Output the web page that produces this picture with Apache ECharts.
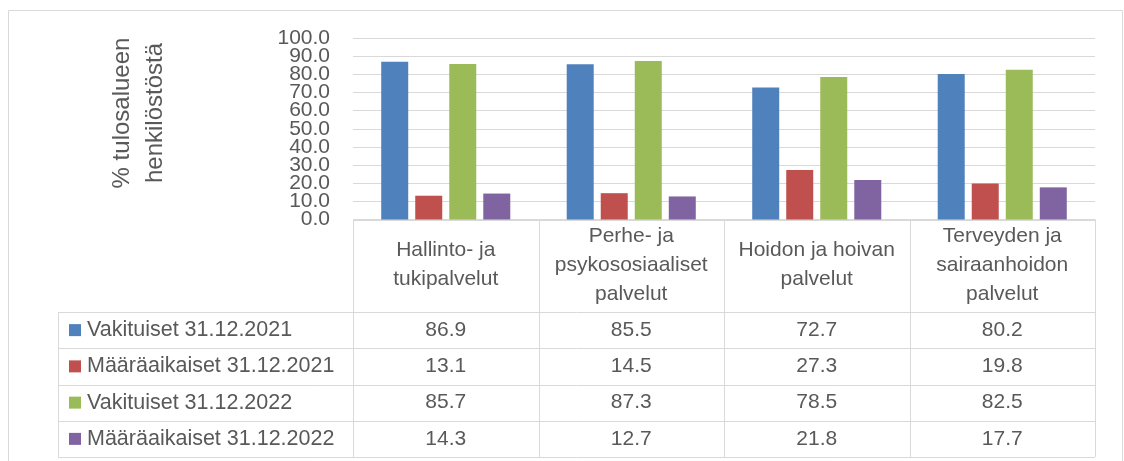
<!DOCTYPE html>
<html>
<head>
<meta charset="utf-8">
<script src="https://cdn.jsdelivr.net/npm/echarts@6/dist/echarts.min.js"></script>
<style>
  html, body { margin: 0; padding: 0; background: #fff; }
  #main { width: 1124px; height: 461px; }
</style>
</head>
<body>
<div id="main"></div>
<script>
// data
var categories = ['Hallinto- ja\ntukipalvelut', 'Perhe- ja\npsykososiaaliset\npalvelut', 'Hoidon ja hoivan\npalvelut', 'Terveyden ja\nsairaanhoidon\npalvelut'];
var seriesNames = ['Vakituiset 31.12.2021', 'Määräaikaiset 31.12.2021', 'Vakituiset 31.12.2022', 'Määräaikaiset 31.12.2022'];
var vakituiset2021 = [86.9, 85.5, 72.7, 80.2];
var maaraaikaiset2021 = [13.1, 14.5, 27.3, 19.8];
var vakituiset2022 = [85.7, 87.3, 78.5, 82.5];
var maaraaikaiset2022 = [14.3, 12.7, 21.8, 17.7];
var yTitle = ['% tulosalueen', 'henkilöstöstä'];

var allData = [vakituiset2021, maaraaikaiset2021, vakituiset2022, maaraaikaiset2022];
var colors = ['#4f81bd', '#c0504d', '#9bbb59', '#8064a2'];
var font = '"Liberation Sans", Arial, sans-serif';
var textColor = '#595959';
var lineColor = '#d9d9d9';

// layout of plot + data table
var W = 1124, H = 461;
var gridLeft = 353, gridRight = 1095, gridTop = 38, gridBottom = 219.5;
var headerBottom = 312, tableBottom = 457, legendLeft = 58;
var colW = (gridRight - gridLeft) / categories.length;
var rowH = (tableBottom - headerBottom) / seriesNames.length;
var step = (gridBottom - gridTop) / 10; // px per 10 units

var myChart = echarts.init(document.getElementById('main'));

var graphic = [];
// outer frame
graphic.push({ type: 'rect', shape: { x: 8.5, y: 10.5, width: 1114, height: 460 }, style: { fill: 'none', stroke: lineColor, lineWidth: 1 }, silent: true });

// y axis title
yTitle.forEach(function (t, i) {
  graphic.push({
    type: 'text', x: 122 + i * 33, y: 113, rotation: Math.PI / 2,
    style: { text: t, font: '24px ' + font, fill: textColor, align: 'center', verticalAlign: 'middle' }
  });
});

function hline(x1, x2, y) {
  graphic.push({ type: 'line', shape: { x1: x1, y1: y, x2: x2, y2: y }, style: { stroke: lineColor, lineWidth: 1 }, silent: true });
}
function vline(x, y1, y2) {
  graphic.push({ type: 'line', shape: { x1: x, y1: y1, x2: x, y2: y2 }, style: { stroke: lineColor, lineWidth: 1 }, silent: true });
}

// table lines
hline(gridLeft, gridRight, Math.round(gridBottom) + 0.5);
for (var r = 0; r <= seriesNames.length; r++) {
  hline(legendLeft, gridRight, Math.round(headerBottom + r * rowH) + 0.5);
}
vline(legendLeft + 0.5, headerBottom, tableBottom);
for (var c = 0; c <= categories.length; c++) {
  vline(Math.round(gridLeft + c * colW) + 0.5, gridBottom, tableBottom);
}

// header cells
categories.forEach(function (cat, c) {
  graphic.push({
    type: 'text', x: gridLeft + (c + 0.5) * colW, y: (gridBottom + headerBottom) / 2 - 1,
    style: { text: cat, font: '21px ' + font, lineHeight: 29, fill: textColor, align: 'center', verticalAlign: 'middle' }
  });
});

// legend column + values
seriesNames.forEach(function (name, s) {
  var cy = headerBottom + (s + 0.5) * rowH;
  graphic.push({ type: 'rect', shape: { x: 69, y: cy - 6, width: 12, height: 12 }, style: { fill: colors[s] } });
  graphic.push({
    type: 'text', x: 87, y: cy,
    style: { text: name, font: '21.5px ' + font, fill: textColor, align: 'left', verticalAlign: 'middle' }
  });
  allData[s].forEach(function (v, c) {
    graphic.push({
      type: 'text', x: gridLeft + (c + 0.5) * colW, y: cy,
      style: { text: v.toFixed(1), font: '21px ' + font, fill: textColor, align: 'center', verticalAlign: 'middle' }
    });
  });
});

function yAxisFor(gridIndex, min, max) {
  return {
    type: 'value', gridIndex: gridIndex,
    min: min, max: max, interval: 20,
    axisLine: { show: false },
    axisTick: { show: false },
    splitLine: { lineStyle: { color: lineColor, width: 1 } },
    axisLabel: {
      formatter: function (v) { return v.toFixed(1); },
      fontSize: 21, fontFamily: font, color: textColor, margin: 23,
      showMinLabel: true, showMaxLabel: true
    }
  };
}

myChart.setOption({
  animation: false,
  color: colors,
  // second grid only carries the odd tick labels (10, 30 ... 90) so labels don't get thinned
  grid: [
    { left: gridLeft, right: W - gridRight, top: gridTop, bottom: H - gridBottom },
    { left: gridLeft, right: W - gridRight, top: gridTop + step, bottom: H - gridBottom + step }
  ],
  xAxis: [
    { type: 'category', gridIndex: 0, data: categories, axisLine: { show: false }, axisTick: { show: false }, axisLabel: { show: false } },
    { type: 'category', gridIndex: 1, data: categories, show: false }
  ],
  yAxis: [yAxisFor(0, 0, 100), yAxisFor(1, 10, 90)],
  series: seriesNames.map(function (name, s) {
    return { name: name, type: 'bar', data: allData[s], barWidth: 27, barGap: '26%' };
  }),
  graphic: graphic
});
</script>
</body>
</html>
